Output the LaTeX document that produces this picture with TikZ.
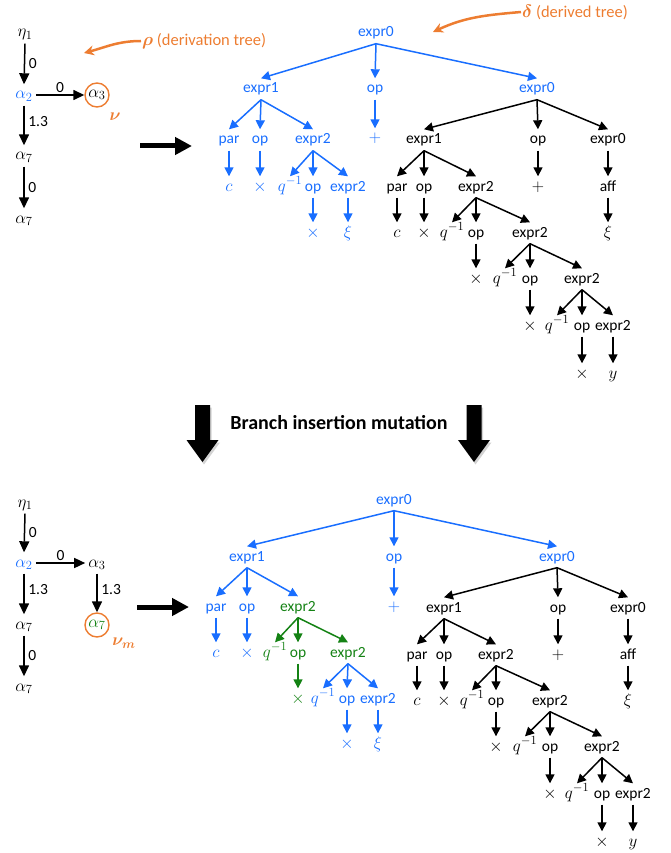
\RequirePackage{fix-cm}
\documentclass[tikz,border=0pt]{standalone}
\usepackage{fontspec}
\setsansfont{Carlito}
\usepackage{bm}
\usetikzlibrary{arrows.meta,shadows}
\DeclareMathSizes{15.5}{17}{12.5}{10}
\DeclareMathSizes{16.5}{18}{13}{10}
\definecolor{myblue}{RGB}{25,110,255}
\definecolor{myorange}{RGB}{237,125,49}
\definecolor{mygreen}{RGB}{20,130,20}
\newcommand\trfont{\fontsize{15.5}{18}\selectfont\sffamily}
\newcommand\olfont{\fontsize{16.5}{19}\selectfont\sffamily}
\newcommand\mutfont{\fontsize{20}{24}\selectfont\sffamily\bfseries}
\tikzset{
 tn/.style={inner sep=3pt, text height=11.5pt, text depth=3.5pt, font=\trfont},
 ed/.style={line width=1.5pt, -{Triangle[length=9pt,width=9pt]}},
 ded/.style={line width=1.5pt, -{Triangle[length=11pt,width=10pt]}},
 lab/.style={font=\trfont, inner sep=3.5pt},
 bigar/.style={line width=5pt, -{Triangle[length=17pt,width=17pt]}},
 oar/.style={myorange, line width=2.5pt, -{Stealth[length=10pt,width=10pt]}},
 olab/.style={anchor=west, font=\olfont, text=myorange, inner sep=1pt},
 circ/.style={circle, line width=1.4pt, draw=myorange, minimum size=24pt, inner sep=0pt, font=\trfont},
 downar/.style={fill=black, drop shadow={shadow xshift=1.5pt, shadow yshift=-2.5pt, opacity=0.35}},
}
\newcommand\blacksub{%
\node[tn,text=myblue] (r) at (537,89) {expr0};
\node[tn] (a) at (424,140) {expr1};
\node[tn] (b) at (538,140) {op};
\node[tn] (c) at (608,140) {expr0};
\node[tn] (aa) at (397,187) {par};
\node[tn] (ab) at (424,187) {op};
\node[tn] (ac) at (476,187) {expr2};
\node[tn] (ba) at (538,187) {$+$};
\node[tn] (ca) at (608,187) {aff};
\node[tn] (caa) at (608,233) {$\xi$};
\node[tn] (aaa) at (397,233) {$c$};
\node[tn] (aba) at (424,233) {$\times$};
\node[tn] (aca) at (452,233) {$q^{-1}$};
\node[tn] (acb) at (476,233) {op};
\node[tn] (acc) at (530,233) {expr2};
\node[tn] (acba) at (476,279) {$\times$};
\node[tn] (u1) at (505,279) {$q^{-1}$};
\node[tn] (u2) at (530,279) {op};
\node[tn] (u3) at (582,279) {expr2};
\node[tn] (u2a) at (530,326) {$\times$};
\node[tn] (v1) at (557,326) {$q^{-1}$};
\node[tn] (v2) at (582,326) {op};
\node[tn] (v3) at (613,326) {expr2};
\node[tn] (v2a) at (582,374) {$\times$};
\node[tn] (v3a) at (613,374) {$y$};
\foreach \p/\c in {r/a,r/b,r/c,a/aa,a/ab,a/ac,b/ba,c/ca,ca/caa,aa/aaa,ab/aba,ac/aca,ac/acb,ac/acc,acb/acba,acc/u1,acc/u2,acc/u3,u2/u2a,u3/v1,u3/v2,u3/v3,v2/v2a,v3/v3a}
  \draw[ed] (\p.south) -- (\c.north);
}
\begin{document}
\begin{tikzpicture}[x=1pt,y=-1pt]
\useasboundingbox (0,0) rectangle (671,853);

% ---------- top derivation tree ----------
\node[tn] (dA) at (25,33) {$\eta_1$};
\node[tn,text=myblue] (dB) at (24,95) {$\alpha_2$};
\node[circ] (dC) at (97,95) {$\alpha_3$};
\node[tn] (dD) at (24,156) {$\alpha_7$};
\node[tn] (dE) at (24,219) {$\alpha_7$};
\node[font=\trfont, text=myorange] (nu) at (115,117) {$\bm{\nu}$};
\draw[ded] (dA.south) -- node[lab,right]{0} (dB.north);
\draw[ded] (dB.east) -- node[lab,above,inner sep=2pt]{0} (dC.west);
\draw[ded] (dB.south) -- node[lab,right,pos=0.4]{1.3} (dD.north);
\draw[ded] (dD.south) -- node[lab,right]{0} (dE.north);

\node[olab] (rholab) at (141,41) {$\bm{\rho}$ (derivation tree)};
\coordinate (rhotip) at (84,53);
\draw[oar] (rholab.west) to[out=180,in=15] (rhotip);
\node[olab] (dellab) at (521,12) {$\bm{\delta}$ (derived tree)};
\coordinate (deltip) at (433,32);
\draw[oar] (dellab.west) to[out=185,in=25] (deltip);

\coordinate (ba1) at (140,146);
\coordinate (ba2) at (192,146);
\draw[bigar] (ba1) -- (ba2);

% ---------- top derived tree ----------
\begin{scope}[name prefix=top-]
\blacksub
\end{scope}
\begin{scope}[myblue]
\node[tn,text=myblue] (t0) at (376,33) {expr0};
\node[tn,text=myblue] (t1) at (261,89) {expr1};
\node[tn,text=myblue] (t2) at (375,89) {op};
\node[tn,text=myblue] (t2a) at (375,139) {$+$};
\node[tn,text=myblue] (t1a) at (229,140) {par};
\node[tn,text=myblue] (t1b) at (260,140) {op};
\node[tn,text=myblue] (t1c) at (313,140) {expr2};
\node[tn,text=myblue] (t1aa) at (229,187) {$c$};
\node[tn,text=myblue] (t1ba) at (260,187) {$\times$};
\node[tn,text=myblue] (t1ca) at (290,187) {$q^{-1}$};
\node[tn,text=myblue] (t1cb) at (313,187) {op};
\node[tn,text=myblue] (t1cc) at (348,187) {expr2};
\node[tn,text=myblue] (t1cba) at (313,233) {$\times$};
\node[tn,text=myblue] (t1cca) at (348,233) {$\xi$};
\foreach \p/\c in {t0/t1,t0/t2,t0/top-r,t2/t2a,t1/t1a,t1/t1b,t1/t1c,t1a/t1aa,t1b/t1ba,t1c/t1ca,t1c/t1cb,t1c/t1cc,t1cb/t1cba,t1cc/t1cca}
  \draw[ed,myblue] (\p.south) -- (\c.north);
\end{scope}

% ---------- mutation arrows ----------
\path[downar] (195,405) -- (210,405) -- (210,440) -- (218.5,440) -- (202.5,462) -- (186.5,440) -- (195,440) -- cycle;
\path[downar] (466.5,405) -- (481.5,405) -- (481.5,440) -- (490,440) -- (474,462) -- (458,440) -- (466.5,440) -- cycle;
\node[font=\mutfont] (mut) at (339,423) {Branch insertion mutation};

% ---------- bottom derivation tree ----------
\node[tn] (bA) at (25,503) {$\eta_1$};
\node[tn,text=myblue] (bB) at (24,563) {$\alpha_2$};
\node[tn] (bC) at (97,563) {$\alpha_3$};
\node[circ,text=mygreen] (bD) at (97,625) {$\alpha_7$};
\node[tn] (bE) at (24,625) {$\alpha_7$};
\node[tn] (bF) at (24,687) {$\alpha_7$};
\node[font=\trfont, text=myorange] (num) at (124,643) {$\bm{\nu_m}$};
\draw[ded] (bA.south) -- node[lab,right]{0} (bB.north);
\draw[ded] (bB.east) -- node[lab,above,inner sep=2pt]{0} (bC.west);
\draw[ded] (bC.south) -- node[lab,right,pos=0.4]{1.3} (bD.north);
\draw[ded] (bB.south) -- node[lab,right,pos=0.4]{1.3} (bE.north);
\draw[ded] (bE.south) -- node[lab,right]{0} (bF.north);

\coordinate (bb1) at (137,607);
\coordinate (bb2) at (189,607);
\draw[bigar] (bb1) -- (bb2);

% ---------- bottom derived tree ----------
\begin{scope}[shift={(20,468)}, name prefix=bot-]
\blacksub
\end{scope}
\node[tn,text=myblue] (s0) at (394,500) {expr0};
\node[tn,text=myblue] (s1) at (247,557) {expr1};
\node[tn,text=myblue] (s2) at (394,557) {op};
\node[tn,text=myblue] (s2a) at (394,607) {$+$};
\node[tn,text=myblue] (s1a) at (216,607) {par};
\node[tn,text=myblue] (s1b) at (247,607) {op};
\node[tn,text=mygreen] (s1c) at (298,607) {expr2};
\node[tn,text=myblue] (s1aa) at (216,653) {$c$};
\node[tn,text=myblue] (s1ba) at (247,653) {$\times$};
\node[tn,text=mygreen] (s1ca) at (275,653) {$q^{-1}$};
\node[tn,text=mygreen] (s1cb) at (298,653) {op};
\node[tn,text=mygreen] (s1cc) at (348,653) {expr2};
\node[tn,text=mygreen] (s1cba) at (298,699) {$\times$};
\node[tn,text=myblue] (s1cca) at (323,699) {$q^{-1}$};
\node[tn,text=myblue] (s1ccb) at (347,699) {op};
\node[tn,text=myblue] (s1ccc) at (378,699) {expr2};
\node[tn,text=myblue] (s1ccba) at (347,744) {$\times$};
\node[tn,text=myblue] (s1ccca) at (378,744) {$\xi$};
\foreach \p/\c in {s0/s1,s0/s2,s0/bot-r,s2/s2a,s1/s1a,s1/s1b,s1/s1c,s1a/s1aa,s1b/s1ba,s1cc/s1cca,s1cc/s1ccb,s1cc/s1ccc,s1ccb/s1ccba,s1ccc/s1ccca}
  \draw[ed,myblue] (\p.south) -- (\c.north);
\foreach \p/\c in {s1c/s1ca,s1c/s1cb,s1c/s1cc,s1cb/s1cba}
  \draw[ed,mygreen] (\p.south) -- (\c.north);
\end{tikzpicture}
\end{document}
